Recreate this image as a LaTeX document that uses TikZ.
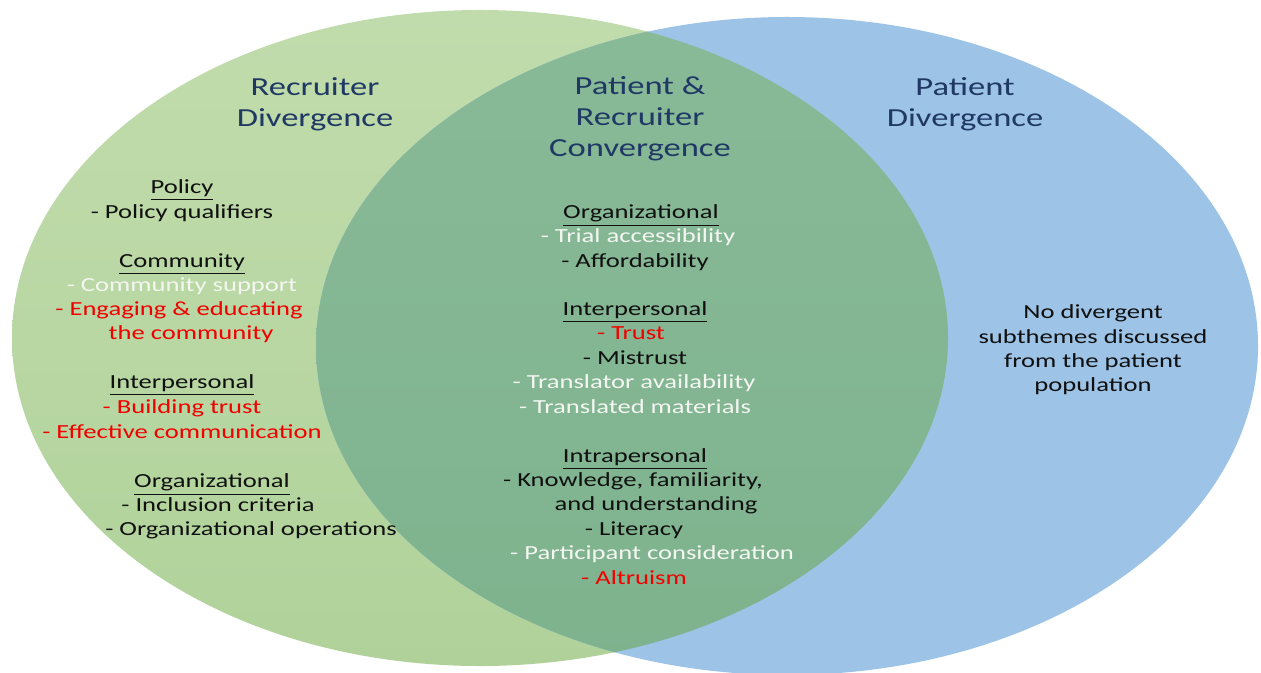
\documentclass[tikz,border=0pt]{standalone}
\usepackage{fontspec}
\setmainfont{Carlito}[FakeStretch=1.33]
\definecolor{recgreentop}{HTML}{C1DCAC}
\definecolor{recgreenbot}{HTML}{B0D29A}
\definecolor{patblue}{HTML}{9DC3E6}
\definecolor{convtop}{HTML}{89BA98}
\definecolor{convbot}{HTML}{7EB28D}
\definecolor{titlenavy}{HTML}{1F3864}
\definecolor{itemred}{HTML}{F20000}
\definecolor{itemwhite}{HTML}{F4F6F2}
\definecolor{itemblack}{HTML}{101010}

\begin{document}
\begin{tikzpicture}[x=0.5pt, y=-0.5pt,
  title/.style={font=\fontsize{13}{15.5}\selectfont, text=titlenavy, align=center, inner sep=0pt},
  theme/.style={font=\fontsize{10}{12.2}\selectfont, anchor=mid, inner sep=0pt, text=itemblack},
  wtheme/.style={theme, text=itemwhite},
  rtheme/.style={theme, text=itemred}]
\useasboundingbox (0,0) rectangle (1261,673);

\path[top color=recgreentop, bottom color=recgreenbot] (480,338) ellipse [x radius=234pt, y radius=164pt];
\fill[patblue] (787,346) ellipse [x radius=235.5pt, y radius=164.5pt];
\begin{scope}
  \clip (480,338) ellipse [x radius=234pt, y radius=164pt];
  \path[top color=convtop, bottom color=convbot] (787,346) ellipse [x radius=235.5pt, y radius=164.5pt];
\end{scope}

\node[title] (recTitle) at (315,104) {Recruiter\\Divergence};
\node[title] (convTitle) at (640,119) {Patient \&\\Recruiter\\Convergence};
\node[title] (patTitle) at (965,104) {Patient\\Divergence};

\node[theme] (l1) at (182,189) {\underline{Policy}};
\node[theme] (l2) at (182,214) {- Policy qualifiers};
\node[theme] (l3) at (182,263) {\underline{Community}};
\node[wtheme] (l4) at (182,287) {- Community support};
\node[rtheme] (l5) at (179,311) {- Engaging \& educating};
\node[rtheme] (l6) at (191,335) {the community};
\node[theme] (l7) at (182,384) {\underline{Interpersonal}};
\node[rtheme] (l8) at (182,409) {- Building trust};
\node[rtheme] (l9) at (182,434) {- Effective communication};
\node[theme] (l10) at (212,483) {\underline{Organizational}};
\node[theme] (l11) at (218,507) {- Inclusion criteria};
\node[theme] (l12) at (251,531) {- Organizational operations};

\node[theme] (m1) at (641,214) {\underline{Organizational}};
\node[wtheme] (m2) at (638,238) {- Trial accessibility};
\node[theme] (m3) at (635,263) {- Affordability};
\node[theme] (m4) at (635,311) {\underline{Interpersonal}};
\node[rtheme] (m5) at (631,335) {- Trust};
\node[theme] (m6) at (635,360) {- Mistrust};
\node[wtheme] (m7) at (634,384) {- Translator availability};
\node[wtheme] (m8) at (635,409) {- Translated materials};
\node[theme] (m9) at (635,458) {\underline{Intrapersonal}};
\node[theme] (m10) at (633,482) {- Knowledge, familiarity,};
\node[theme] (m11) at (656,506) {and understanding};
\node[theme] (m12) at (634,531) {- Literacy};
\node[wtheme] (m13) at (652,555) {- Participant consideration};
\node[rtheme] (m14) at (634,580) {- Altruism};

\node[theme, align=center, anchor=center] (p1) at (1093,350) {No divergent\\subthemes discussed\\from the patient\\population};
\end{tikzpicture}
\end{document}
